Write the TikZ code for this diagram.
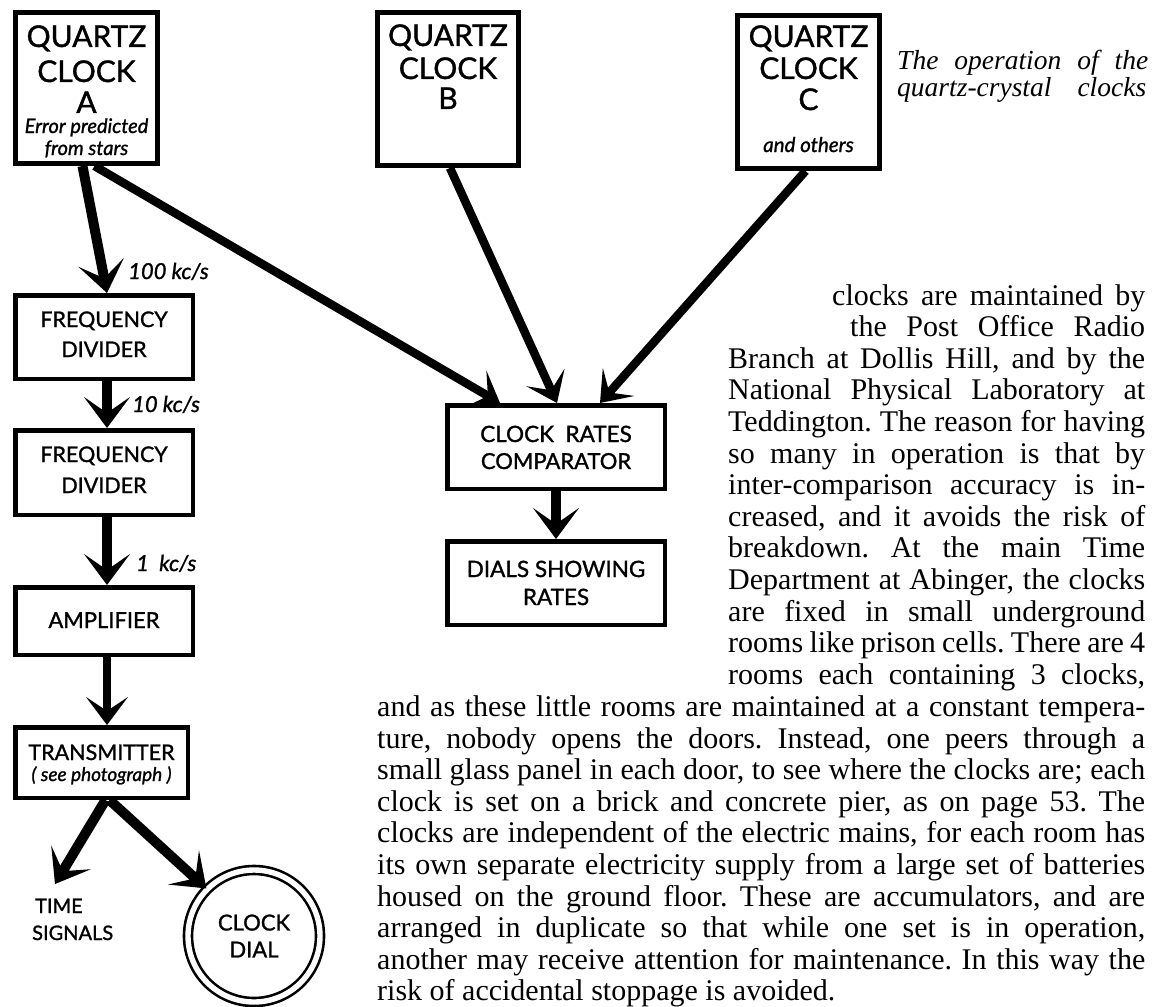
\documentclass[tikz,border=0pt]{standalone}
\usepackage{fontspec}
\setmainfont{Liberation Serif}
\newfontfamily\gill{Lato}[FakeBold=1.2]
\usetikzlibrary{arrows.meta,calc}
\frenchspacing
\begin{document}
\begin{tikzpicture}[x=1pt,y=-1pt,
  box/.style={draw, line width=4.5pt, inner sep=0pt},
  qbox/.style={draw, line width=5pt, inner sep=0pt},
  qtxt/.style={inner sep=0pt, anchor=base, font=\gill\fontsize{30}{32}\selectfont},
  qsub/.style={inner sep=0pt, anchor=base, font=\gill\itshape\fontsize{20}{22}\selectfont},
  btxt/.style={inner sep=0pt, anchor=base, font=\gill\fontsize{22}{24}\selectfont},
  ftxt/.style={inner sep=0pt, anchor=base west, font=\gill\itshape\fontsize{22}{24}\selectfont},
  otxt/.style={inner sep=0pt, anchor=base west, font=\gill\fontsize{20}{24}\selectfont},
  body/.style={inner sep=0pt, anchor=base west, font=\fontsize{30}{31.6}\selectfont},
  capt/.style={inner sep=0pt, anchor=base west, font=\itshape\fontsize{27.5}{28}\selectfont},
  flow/.style={line width=10pt, -{Stealth[length=31pt,width=46pt,inset=16pt]}},
  flowthin/.style={line width=8.5pt, -{Stealth[length=28pt,width=42pt,inset=14pt]}}
]
\useasboundingbox (0,0) rectangle (1155,1006);
\fill[white] (0,0) rectangle (1155,1006);

% quartz clocks
\node[qbox, minimum width=142pt, minimum height=151pt] (qa) at (86.5,88) {};
\node[qtxt] (qa1) at (86.5,47) {QUARTZ};
\node[qtxt] (qa2) at (86.5,82) {CLOCK};
\node[qtxt] (qa3) at (86.5,113) {A};
\node[qsub] (qa4) at (86.5,133) {Error predicted};
\node[qsub] (qa5) at (86.5,155) {from stars};

\node[qbox, minimum width=141pt, minimum height=153pt] (qb) at (448,89) {};
\node[qtxt] (qb1) at (448,46) {QUARTZ};
\node[qtxt] (qb2) at (448,79) {CLOCK};
\node[qtxt] (qb3) at (448,109) {B};

\node[qbox, minimum width=142pt, minimum height=153pt] (qc) at (808.5,92) {};
\node[qtxt] (qc1) at (808.5,47) {QUARTZ};
\node[qtxt] (qc2) at (808.5,79) {CLOCK};
\node[qtxt] (qc3) at (808.5,110) {C};
\node[qsub, font=\gill\itshape\fontsize{20.5}{22}\selectfont] (qc4) at (808.5,152) {and others};

% caption
\node[capt] (cap1) at (897,70) {\hbox to 251pt{The operation of the}};
\node[capt] (cap2) at (897,97) {\hbox to 249pt{quartz-crystal clocks}};

% left chain
\node[box, minimum width=177.5pt, minimum height=83.5pt] (fd1) at (104,337) {};
\node[btxt, font=\gill\fontsize{21.5}{24}\selectfont] (fd1a) at (104,327) {FREQUENCY};
\node[btxt, font=\gill\fontsize{21.5}{24}\selectfont] (fd1b) at (104,357) {DIVIDER};
\node[box, minimum width=177.5pt, minimum height=84.5pt] (fd2) at (104,472.5) {};
\node[btxt, font=\gill\fontsize{21.5}{24}\selectfont] (fd2a) at (104,462) {FREQUENCY};
\node[btxt, font=\gill\fontsize{21.5}{24}\selectfont] (fd2b) at (104,493) {DIVIDER};
\node[box, minimum width=177.5pt, minimum height=67.5pt] (amp) at (104,621) {};
\node[btxt] (ampa) at (104,628) {AMPLIFIER};
\node[box, minimum width=172.5pt, minimum height=70.5pt] (tr) at (101.5,762.5) {};
\node[btxt, font=\gill\fontsize{21.5}{24}\selectfont] (tra) at (101.5,760) {TRANSMITTER};
\node[qsub, font=\gill\itshape\fontsize{19}{20}\selectfont] (trb) at (101.5,781) {( see photograph )};

\node[ftxt] (l100) at (128,279) {100 kc/s};
\node[ftxt] (l10) at (132,412) {10 kc/s};
\node[ftxt] (l1) at (136,571) {1 \ kc/s};

\node[otxt] (ts1) at (35,913) {TIME};
\node[otxt] (ts2) at (32,940) {SIGNALS};
\coordinate (tsig) at (55,884);

\node[circle, draw, line width=2.6pt, double=white, double distance=5.4pt, minimum size=132pt, inner sep=0pt,
      align=center, font=\gill\fontsize{22}{27}\selectfont] (dial) at (254,936) {CLOCK\\DIAL};

% comparator
\node[box, minimum width=217.5pt, minimum height=83.5pt] (cmp) at (556,447) {};
\node[btxt, font=\gill\fontsize{22.5}{24}\selectfont] (cmpa) at (556,442) {CLOCK\ \ RATES};
\node[btxt] (cmpb) at (556,469) {COMPARATOR};
\node[box, minimum width=217.5pt, minimum height=83.5pt] (dls) at (556,583) {};
\node[btxt, font=\gill\fontsize{22.5}{24}\selectfont] (dlsa) at (556,577) {DIALS SHOWING};
\node[btxt, font=\gill\fontsize{22.5}{24}\selectfont] (dlsb) at (556,605) {RATES};

% connectors
\draw[flow] ([xshift=-4pt]qa.south) -- ([xshift=3pt]fd1.north);
\draw[flowthin] ([xshift=8pt]qa.south) -- ([xshift=-56pt]cmp.north);
\draw[flowthin] ([xshift=2pt]qb.south) -- ([xshift=1pt]cmp.north);
\draw[flowthin] ([xshift=-3pt]qc.south) -- ([xshift=44pt]cmp.north);
\draw[flow] (cmp.south) -- (dls.north);
\draw[flow] ([xshift=3pt]fd1.south) -- ([xshift=3pt]fd2.north);
\draw[flow] ([xshift=3pt]fd2.south) -- ([xshift=3pt]amp.north);
\draw[flowthin] ([xshift=3pt]amp.south) -- ([xshift=5.5pt]tr.north);
\draw[flow] ([xshift=4pt]tr.south) -- (tsig);
\draw[flow] ([xshift=8pt]tr.south) -- (dial.135);

% body text
\node[body] (t0) at (832,305.0) {\hbox to 313pt{clocks are maintained by}};
\node[body] (t1) at (850,336.6) {\hbox to 295pt{the Post Office Radio}};
\node[body] (t2) at (728,368.2) {\hbox to 417pt{Branch at Dollis Hill, and by the}};
\node[body] (t3) at (728,399.8) {\hbox to 417pt{National Physical Laboratory at}};
\node[body] (t4) at (728,431.4) {\hbox to 417pt{Teddington. The reason for having}};
\node[body] (t5) at (728,463.0) {\hbox to 417pt{so many in operation is that by}};
\node[body] (t6) at (728,494.6) {\hbox to 417pt{inter-comparison accuracy is in-}};
\node[body] (t7) at (728,526.2) {\hbox to 417pt{creased, and it avoids the risk of}};
\node[body] (t8) at (728,557.8) {\hbox to 417pt{breakdown. At the main Time}};
\node[body] (t9) at (728,589.4) {\hbox to 417pt{Department at Abinger, the clocks}};
\node[body] (t10) at (728,621.0) {\hbox to 417pt{are fixed in small underground}};
\node[body] (t11) at (728,652.6) {\hbox to 417pt{rooms like prison cells. There are 4}};
\node[body] (t12) at (728,684.2) {\hbox to 417pt{rooms each containing 3 clocks,}};
\node[body] (t13) at (377,716.5) {\hbox to 768pt{and as these little rooms are maintained at a constant tempera-}};
\node[body] (t14) at (377,748.1) {\hbox to 768pt{ture, nobody opens the doors. Instead, one peers through a}};
\node[body] (t15) at (377,779.7) {\hbox to 768pt{small glass panel in each door, to see where the clocks are; each}};
\node[body] (t16) at (377,811.3) {\hbox to 768pt{clock is set on a brick and concrete pier, as on page 53. The}};
\node[body] (t17) at (377,842.9) {\hbox to 768pt{clocks are independent of the electric mains, for each room has}};
\node[body] (t18) at (377,874.5) {\hbox to 768pt{its own separate electricity supply from a large set of batteries}};
\node[body] (t19) at (377,906.1) {\hbox to 768pt{housed on the ground floor. These are accumulators, and are}};
\node[body] (t20) at (377,937.7) {\hbox to 768pt{arranged in duplicate so that while one set is in operation,}};
\node[body] (t21) at (377,969.3) {\hbox to 768pt{another may receive attention for maintenance. In this way the}};
\node[body] (t22) at (377,1000.9) {risk of accidental stoppage is avoided.};
\end{tikzpicture}
\end{document}
